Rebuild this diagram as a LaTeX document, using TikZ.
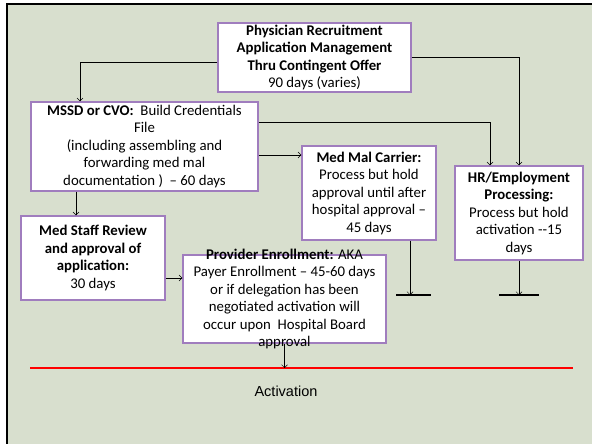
\documentclass[tikz,border=0pt]{standalone}
\usepackage{fontspec}
\setmainfont{Carlito}
\newfontfamily\arialfont{Liberation Sans}
\usetikzlibrary{arrows, arrows.meta, positioning}
\definecolor{slidebg}{RGB}{216,223,206}
\definecolor{boxline}{RGB}{160,125,190}
\definecolor{actred}{RGB}{255,0,0}
\tikzstyle{stage} = [rectangle, draw=boxline, line width=1.4pt,
fill=white, align=center, inner sep=0pt,
font=\fontsize{14.8}{17.5}\selectfont]
\tikzstyle{plain} = [align=center, inner sep=0pt,
font=\fontsize{14.8}{17.5}\selectfont]
\tikzstyle{arrow} = [thin, ->, >={Straight Barb[length=3pt, width=6pt]}]
\tikzstyle{bar} = [line width=1.2pt]

\begin{document}
\begin{tikzpicture}[x=1pt, y=-1pt]
    \useasboundingbox (0,0) rectangle (592,444);
    % slide background and frame
    \fill[slidebg] (7,4) rectangle (592,444);
    \draw[line width=2.5pt] (7,444) -- (7,4) -- (592,4);

    \node (offer) [stage, minimum width=193pt, minimum height=69pt] at (314.5,57.5)
        {\textbf{Physician Recruitment} \\ \textbf{Application Management} \\
         \textbf{Thru Contingent Offer} \\ 90 days (varies)};
    \node (mssd) [stage, minimum width=227pt, minimum height=89pt] at (144.5,146.5)
        {\textbf{MSSD or CVO:}\ \ Build Credentials \\ File \\ (including assembling and \\
         forwarding med mal \\ documentation )\ \ -- 60 days};
    \node (medstaff) [stage, minimum width=144pt, minimum height=84pt] at (93,258)
        {\textbf{Med Staff Review} \\ \textbf{and approval of} \\ \textbf{application:} \\ 30 days};
    \node (medmal) [stage, minimum width=134pt, minimum height=94pt] at (369,193)
        {\textbf{Med Mal Carrier:} \\ Process but hold \\ approval until after \\
         hospital approval -- \\ 45 days};
    \node (hr) [stage, minimum width=128pt, minimum height=94pt] at (519,213)
        {\textbf{HR/Employment} \\ \textbf{Processing:} \\ Process but hold \\
         activation -\/-15 \\ days};
    \node (provider) [stage, minimum width=203pt, minimum height=88pt] at (284.5,299) {};
    \node (providertext) [plain] at (provider.center)
        {\textbf{Provider Enrollment:} AKA \\ Payer Enrollment -- 45-60 days \\
         or if delegation has been \\ negotiated activation will \\
         occur upon\ \ Hospital Board \\ approval};

    % hold points and activation line
    \coordinate (mmbar) at (410,295);
    \coordinate (hrbar) at (519,295);
    \coordinate (actl) at (30,368);
    \coordinate (actr) at (573,368);
    \draw[bar] ([xshift=-14pt]mmbar) -- ([xshift=21pt]mmbar);
    \draw[bar] ([xshift=-20pt]hrbar) -- ([xshift=20pt]hrbar);
    \draw[actred, line width=2.2pt] (actl) -- (actr);
    \node (activation) [font=\arialfont\fontsize{14.5}{17.5}\selectfont] at (286,391) {Activation};

    \draw [arrow] ([yshift=-4.5pt]offer.west) -| (mssd.north -| 80,0);
    \draw [arrow] (offer.east) -| (hr.north -| 519,0);
    \draw [arrow] (mssd.east |- 0,122) -| (hr.north -| 490,0);
    \draw [arrow] (mssd.east |- 0,155) -- (medmal.west |- 0,155);
    \draw [arrow] (mssd.south -| 76,0) -- (medstaff.north -| 76,0);
    \draw [arrow] (medstaff.east |- 0,278) -- (provider.west |- 0,278);
    \draw [arrow] (medmal.south -| mmbar) -- (mmbar);
    \draw [arrow] (hr.south) -- (hrbar);
    \draw [arrow] (provider.south) -- (provider.south |- actl);
\end{tikzpicture}
\end{document}
